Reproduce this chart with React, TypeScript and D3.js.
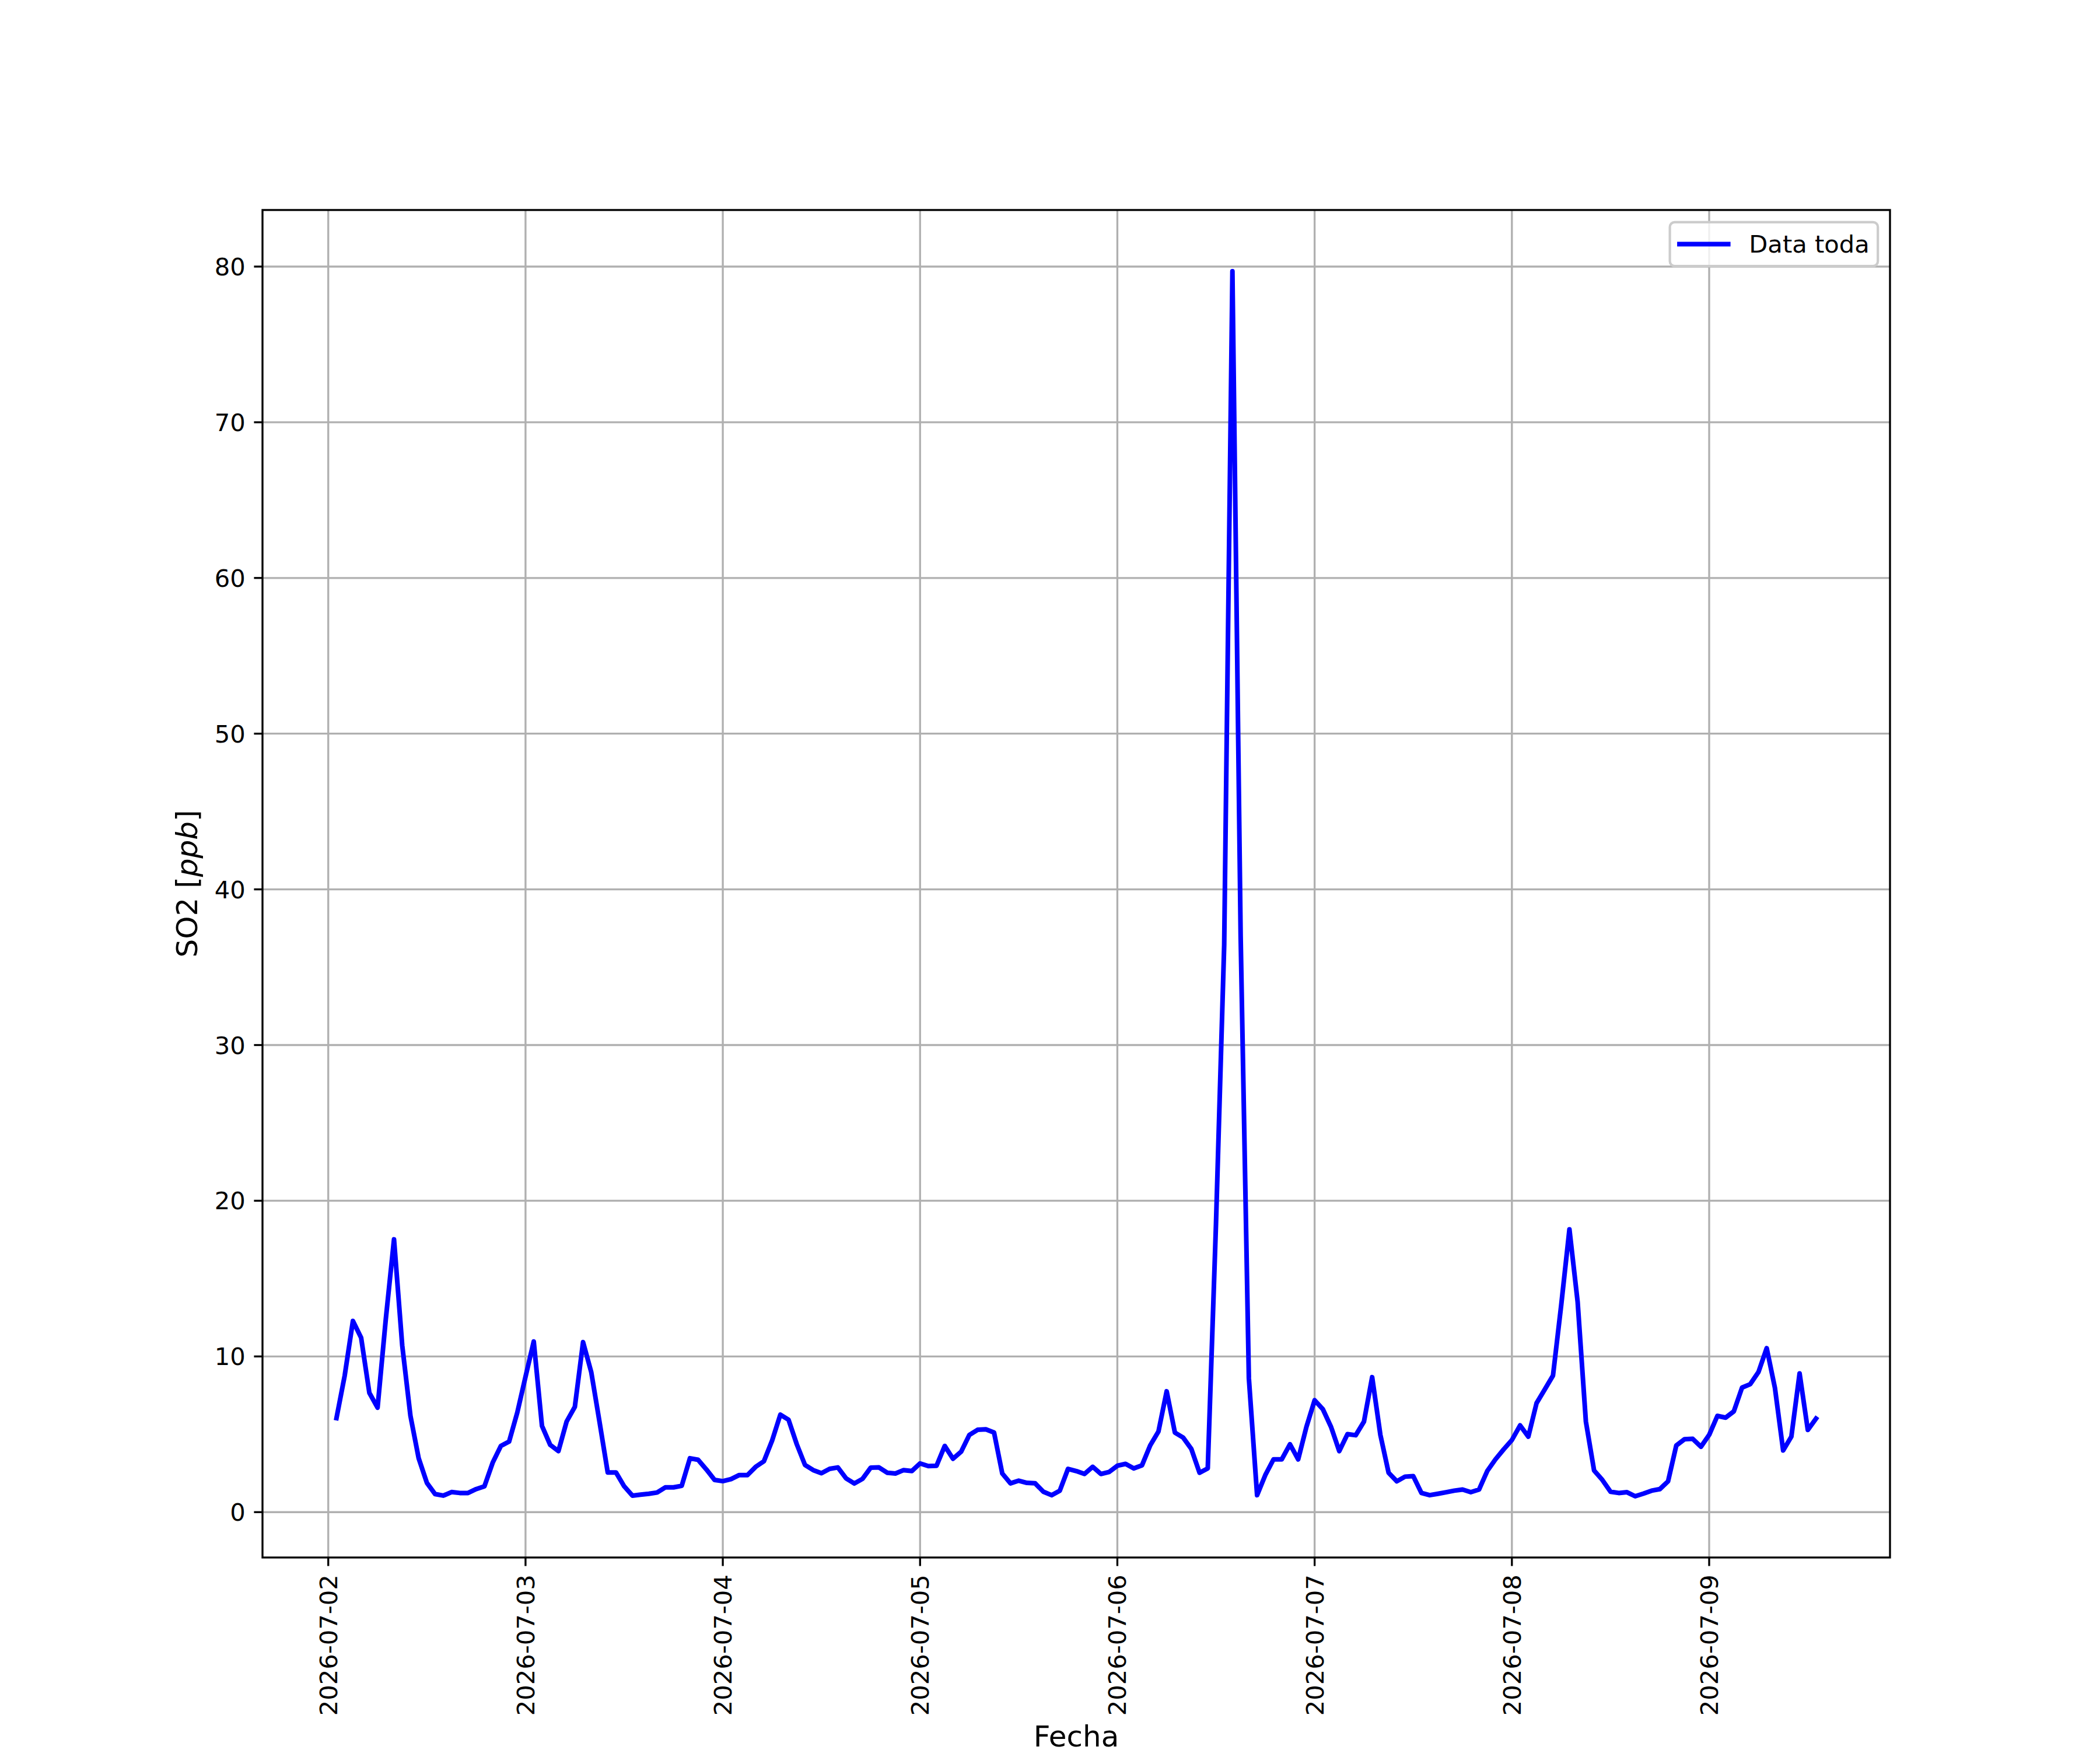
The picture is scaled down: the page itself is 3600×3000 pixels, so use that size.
import React, { useMemo } from "react";
import * as d3 from "d3";

// Hourly SO2 readings, first reading at 2026-07-02 01:00 (UTC)
const START = Date.UTC(2026, 6, 2, 1);
const SO2_VALUES = [
  6.04, 8.77, 12.28, 11.2, 7.66, 6.71, 12.4, 17.52, 10.7, 6.18, 3.46, 1.88,
  1.16, 1.06, 1.29, 1.23, 1.23, 1.48, 1.66, 3.17, 4.25, 4.53, 6.4, 8.7,
  10.96, 5.54, 4.32, 3.92, 5.82, 6.76, 10.92, 8.98, 5.8, 2.55, 2.55, 1.66,
  1.06, 1.12, 1.18, 1.26, 1.59, 1.59, 1.69, 3.46, 3.36, 2.74, 2.07, 1.99,
  2.12, 2.38, 2.38, 2.91, 3.27, 4.6, 6.26, 5.93, 4.36, 3.03, 2.7, 2.5,
  2.78, 2.87, 2.17, 1.84, 2.14, 2.86, 2.87, 2.53, 2.48, 2.7, 2.64, 3.13,
  2.96, 2.98, 4.25, 3.43, 3.89, 4.96, 5.29, 5.32, 5.11, 2.48, 1.85, 2.02,
  1.88, 1.85, 1.31, 1.09, 1.38, 2.78, 2.64, 2.45, 2.91, 2.45, 2.58, 2.98,
  3.1, 2.81, 3.01, 4.29, 5.18, 7.76, 5.11, 4.79, 4.06, 2.53, 2.81, 18.5,
  36.45, 79.7, 37.0, 8.6, 1.09, 2.38, 3.39, 3.39, 4.36, 3.39, 5.47, 7.19,
  6.61, 5.47, 3.92, 5.01, 4.94, 5.81, 8.67, 4.96, 2.53, 1.98, 2.28, 2.31,
  1.23, 1.09, 1.18, 1.28, 1.38, 1.45, 1.28, 1.45, 2.64, 3.39, 4.03, 4.63,
  5.57, 4.85, 7.0, 7.88, 8.77, 13.3, 18.16, 13.5, 5.82, 2.67, 2.07, 1.31,
  1.23, 1.28, 1.02, 1.19, 1.38, 1.48, 1.98, 4.28, 4.68, 4.71, 4.2, 4.96,
  6.18, 6.07, 6.47, 8.0, 8.22, 9.0, 10.53, 7.98, 3.96, 4.85, 8.91, 5.28,
  6.01,
];
const Y_TICKS = [0, 10, 20, 30, 40, 50, 60, 70, 80];
const X_TICK_DAYS = [2, 3, 4, 5, 6, 7, 8, 9];
const SERIES_LABEL = "Data toda";
const X_LABEL = "Fecha";

const W = 3600;
const H = 3000;
const LEFT = 450;
const RIGHT = 3240;
const TOP = 360;
const BOTTOM = 2670;
const PT = 300 / 72;
const FONT = "'DejaVu Sans', sans-serif";

export default function App() {
  const data = useMemo(
    () => SO2_VALUES.map((v, i) => ({ t: new Date(START + i * 3600000), v })),
    []
  );

  const { x, y, path } = useMemo(() => {
    const [t0, t1] = d3.extent(data, (d) => +d.t) as [number, number];
    const [v0, v1] = d3.extent(data, (d) => d.v) as [number, number];
    const tm = (t1 - t0) * 0.05;
    const vm = (v1 - v0) * 0.05;
    const x = d3.scaleUtc().domain([new Date(t0 - tm), new Date(t1 + tm)]).range([LEFT, RIGHT]);
    const y = d3.scaleLinear().domain([v0 - vm, v1 + vm]).range([BOTTOM, TOP]);
    const path = d3
      .line<{ t: Date; v: number }>()
      .x((d) => x(d.t))
      .y((d) => y(d.v))(data) || "";
    return { x, y, path };
  }, [data]);

  const fmt = d3.utcFormat("%Y-%m-%d");
  const tickLen = 3.5 * PT;
  const tickW = 0.8 * PT;
  const tickFont = 10 * PT;
  const labelFont = 12 * PT;

  // legend box geometry (upper right, matplotlib style)
  const legW = 356.6;
  const legH = 75.3;
  const legX = RIGHT - 20.8 - legW;
  const legY = TOP + 20.8;

  return (
    <svg
      width={W}
      height={H}
      style={{ position: "absolute", left: 0, top: 0, background: "#fff" }}
      fontFamily={FONT}
    >
      <defs>
        <clipPath id="plot-clip">
          <rect x={LEFT} y={TOP} width={RIGHT - LEFT} height={BOTTOM - TOP} />
        </clipPath>
      </defs>
      <rect x={0} y={0} width={W} height={H} fill="#fff" />

      {/* grid */}
      <g stroke="#b0b0b0" strokeWidth={tickW}>
        {X_TICK_DAYS.map((d) => {
          const xx = x(new Date(Date.UTC(2026, 6, d)));
          return <line key={"gx" + d} x1={xx} x2={xx} y1={TOP} y2={BOTTOM} />;
        })}
        {Y_TICKS.map((t) => (
          <line key={"gy" + t} x1={LEFT} x2={RIGHT} y1={y(t)} y2={y(t)} />
        ))}
      </g>

      {/* series */}
      <path
        d={path}
        fill="none"
        stroke="#0000ff"
        strokeWidth={8}
        strokeLinejoin="round"
        strokeLinecap="square"
        clipPath="url(#plot-clip)"
      />

      {/* spines */}
      <rect
        x={LEFT}
        y={TOP}
        width={RIGHT - LEFT}
        height={BOTTOM - TOP}
        fill="none"
        stroke="#000"
        strokeWidth={tickW}
      />

      {/* y ticks */}
      {Y_TICKS.map((t) => (
        <g key={"yt" + t}>
          <line x1={LEFT - tickLen} x2={LEFT} y1={y(t)} y2={y(t)} stroke="#000" strokeWidth={tickW} />
          <text
            x={LEFT - tickLen - 3.5 * PT}
            y={y(t)}
            dy="0.36em"
            textAnchor="end"
            fontSize={tickFont}
            fill="#000"
          >
            {t}
          </text>
        </g>
      ))}

      {/* x ticks */}
      {X_TICK_DAYS.map((d) => {
        const date = new Date(Date.UTC(2026, 6, d));
        const xx = x(date);
        const ty = BOTTOM + tickLen + 3.5 * PT;
        return (
          <g key={"xt" + d}>
            <line x1={xx} x2={xx} y1={BOTTOM} y2={BOTTOM + tickLen} stroke="#000" strokeWidth={tickW} />
            <text
              transform={`translate(${xx},${ty}) rotate(-90)`}
              dy="0.36em"
              textAnchor="end"
              fontSize={tickFont}
              fill="#000"
            >
              {fmt(date)}
            </text>
          </g>
        );
      })}

      {/* axis labels */}
      <text x={(LEFT + RIGHT) / 2} y={2994} textAnchor="middle" fontSize={labelFont} fill="#000">
        {X_LABEL}
      </text>
      <text
        transform={`translate(${338},${(TOP + BOTTOM) / 2}) rotate(-90)`}
        textAnchor="middle"
        fontSize={labelFont}
        fill="#000"
      >
        SO2 [<tspan fontStyle="italic">ppb</tspan>]
      </text>

      {/* legend */}
      <g>
        <rect
          x={legX}
          y={legY}
          width={legW}
          height={legH}
          rx={8.3}
          fill="#fff"
          fillOpacity={0.8}
          stroke="#cccccc"
          strokeWidth={1 * PT}
        />
        <line
          x1={legX + 12.5}
          x2={legX + 104}
          y1={legY + legH / 2}
          y2={legY + legH / 2}
          stroke="#0000ff"
          strokeWidth={8}
        />
        <text x={legX + 135.7} y={legY + legH / 2} dy="0.36em" fontSize={tickFont} fill="#000">
          {SERIES_LABEL}
        </text>
      </g>
    </svg>
  );
}
